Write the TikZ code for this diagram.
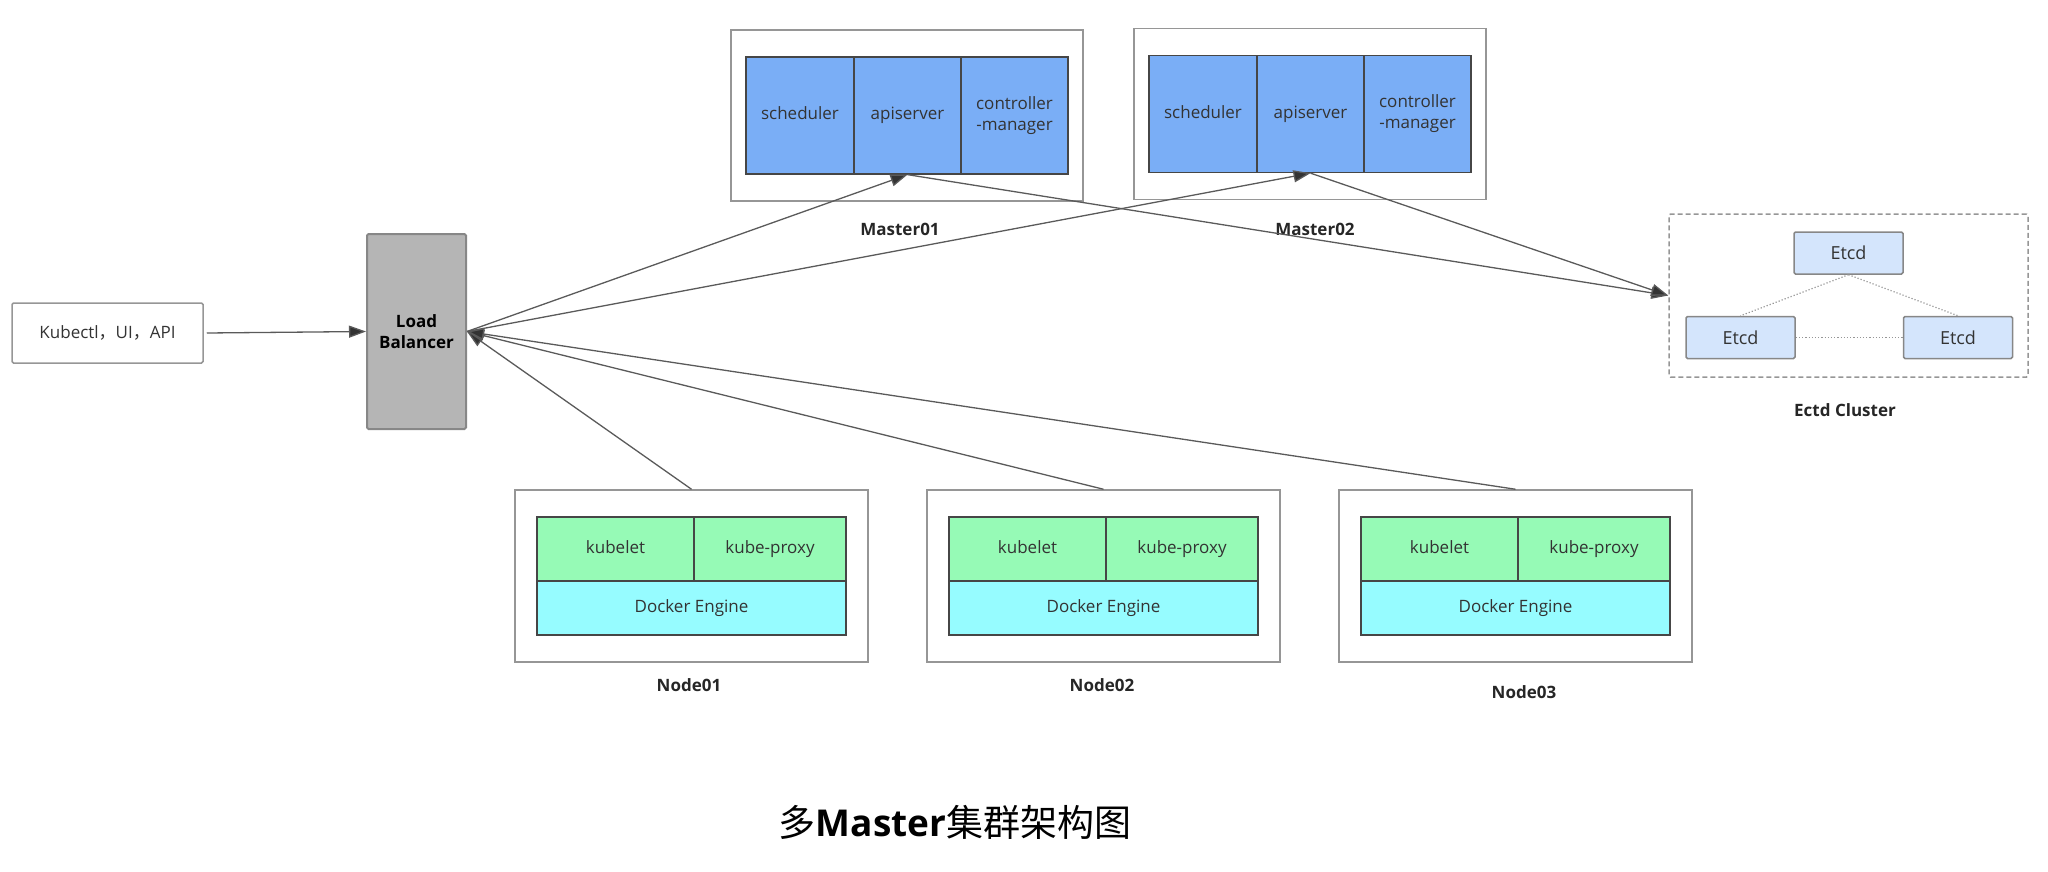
\documentclass[tikz,border=0pt]{standalone}
\usepackage{fontspec}
\setmainfont{Open Sans}
\newfontfamily\cjk{Noto Sans CJK SC}
\usetikzlibrary{arrows.meta}

\definecolor{masterblue}{RGB}{122,174,246}
\definecolor{kubegreen}{RGB}{150,250,182}
\definecolor{dockercyan}{RGB}{150,252,255}
\definecolor{lbgray}{RGB}{181,181,181}
\definecolor{etcdblue}{RGB}{212,229,252}
\definecolor{boxgray}{RGB}{150,150,150}
\definecolor{cellgray}{RGB}{70,70,70}
\definecolor{linegray}{RGB}{90,90,90}
\definecolor{textgray}{RGB}{51,51,51}

\tikzset{
  outerbox/.style={draw=boxgray, line width=1.5pt, inner sep=0pt},
  cell/.style={draw=cellgray, line width=1.3pt, inner sep=0pt, align=center,
    text=textgray, font=\fontsize{17}{21}\selectfont},
  onerow/.style={text height=13pt, text depth=4pt},
  caption/.style={text=black!85, font=\fontsize{17}{20}\bfseries},
  link/.style={draw=linegray, line width=1.3pt,
    -{Triangle[length=17pt,width=12pt,fill=black!80]}},
  etcdbox/.style={draw=boxgray!90!black, line width=1.5pt, fill=etcdblue, rounded corners=1.5pt,
    minimum width=109pt, minimum height=42pt, inner sep=0pt, text=textgray,
    font=\fontsize{18}{20}\selectfont},
}

\begin{document}
\begin{tikzpicture}[x=1pt,y=-1pt]
  \useasboundingbox (0,0) rectangle (2048,872);

  % client and load balancer
  \node[outerbox, rounded corners=1.5pt, minimum width=191pt, minimum height=60pt,
    text=textgray, font=\fontsize{17}{20}\selectfont] (kubectl) at (107.5,333)
    {Kubectl{\cjk ，}UI{\cjk ，}API};
  \node[draw=boxgray!90!black, line width=2pt, fill=lbgray, rounded corners=1.5pt,
    minimum width=99pt, minimum height=195pt, inner sep=0pt, align=center,
    font=\fontsize{17}{21}\bfseries] (lb) at (416.5,331.5) {Load\\Balancer};

  % masters
  \foreach \m/\dx/\cy in {01/0/115.5, 02/403/114} {
    \node[outerbox, minimum width=352pt, minimum height=171pt] (master\m) at (907+\dx,\cy) {};
    \node[cell, onerow, fill=masterblue, minimum width=108pt, minimum height=117pt] (sched\m) at (800+\dx,\cy) {scheduler};
    \node[cell, onerow, fill=masterblue, minimum width=107pt, minimum height=117pt] (api\m) at (907.5+\dx,\cy) {apiserver};
    \node[cell, fill=masterblue, minimum width=107pt, minimum height=117pt] (ctrl\m) at (1014.5+\dx,\cy) {controller\\-manager};
  }
  \node[caption] (lblmaster01) at (900,229) {Master01};
  \node[caption] (lblmaster02) at (1315,229) {Master02};

  % worker nodes
  \foreach \n/\dx in {01/0, 02/412, 03/824} {
    \node[outerbox, minimum width=353pt, minimum height=172pt] (node\n) at (691.5+\dx,576) {};
    \node[cell, onerow, fill=kubegreen, minimum width=157pt, minimum height=64pt] (kubelet\n) at (615.5+\dx,549) {kubelet};
    \node[cell, onerow, fill=kubegreen, minimum width=152pt, minimum height=64pt] (proxy\n) at (770+\dx,549) {kube-proxy};
    \node[cell, onerow, fill=dockercyan, minimum width=309pt, minimum height=54pt] (docker\n) at (691.5+\dx,608) {Docker Engine};
  }
  \node[caption] (lblnode01) at (689,685) {Node01};
  \node[caption] (lblnode02) at (1102,685) {Node02};
  \node[caption] (lblnode03) at (1524,692) {Node03};

  % etcd cluster
  \node[draw=boxgray, line width=1.5pt, dash pattern=on 5pt off 3pt, rounded corners=1.5pt,
    minimum width=359pt, minimum height=163pt] (etcdcluster) at (1848.5,295.5) {};
  \node[etcdbox] (etcdtop) at (1848.5,253) {Etcd};
  \node[etcdbox] (etcdleft) at (1740.5,337.5) {Etcd};
  \node[etcdbox] (etcdright) at (1958,337.5) {Etcd};
  \draw[boxgray, line width=1.2pt, dotted] (etcdtop.south) -- (etcdleft.north);
  \draw[boxgray, line width=1.2pt, dotted] (etcdtop.south) -- (etcdright.north);
  \draw[boxgray, line width=1.2pt, dotted] (etcdleft.east) -- (etcdright.west);
  \node[caption] (lblcluster) at (1845,410) {Ectd Cluster};

  % connections
  \draw[link] ([xshift=3pt]kubectl.east) -- (lb.west);
  \foreach \m in {01,02} {
    \draw[link] (lb.east) -- (api\m.south);
    \draw[link] (api\m.south) -- (etcdcluster.west);
  }
  \foreach \n in {01,02,03}
    \draw[link] (node\n.north) -- (lb.east);

  % title
  \node[font=\fontsize{37}{40}\selectfont] (title) at (955,822)
    {{\cjk 多}{\bfseries Master}{\cjk 集群架构图}};
\end{tikzpicture}
\end{document}
